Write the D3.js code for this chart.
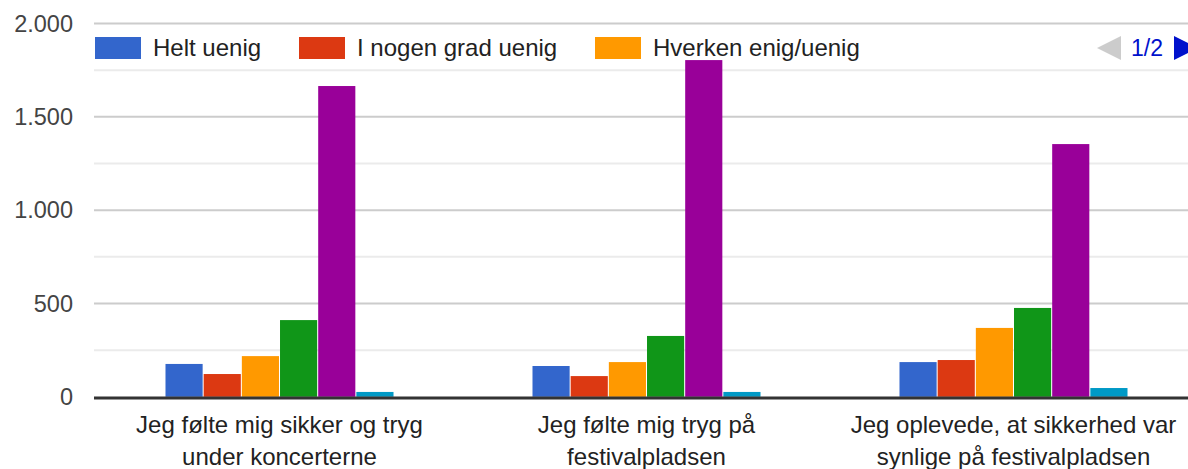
<!DOCTYPE html>
<html>
<head>
<meta charset="utf-8">
<script src="https://cdn.jsdelivr.net/npm/d3@7"></script>
<style>
  html, body { margin: 0; padding: 0; background: #fff; }
  svg { display: block; font-family: Arial, "Liberation Sans", sans-serif; }
</style>
</head>
<body>
<svg id="chart" width="1188" height="469"></svg>
<script>
// Survey statements (x categories), each label split over two lines
const categories = [
  "Jeg følte mig sikker og tryg",
  "Jeg følte mig tryg på",
  "Jeg oplevede, at sikkerhed var"
];
const categoryLines = [
  ["Jeg følte mig sikker og tryg", "under koncerterne"],
  ["Jeg følte mig tryg på", "festivalpladsen"],
  ["Jeg oplevede, at sikkerhed var", "synlige på festivalpladsen"]
];

// Answer options (series); the legend shows the first page of them
const seriesNames = ["Helt uenig", "I nogen grad uenig", "Hverken enig/uenig", "Delvist enig", "Helt enig", "Ved ikke"];
const seriesColors = ["#3366cc", "#dc3912", "#ff9900", "#109618", "#990099", "#0099c6"];

// Response counts per statement, one value per answer option
const valuesSikkerKoncert = [176, 122, 218, 411, 1665, 26];
const valuesTrygPlads     = [165, 111, 186, 326, 1804, 26];
const valuesSynligSikker  = [186, 197, 369, 476, 1354, 47];
const seriesValues = [valuesSikkerKoncert, valuesTrygPlads, valuesSynligSikker];

const yTicks = [0, 500, 1000, 1500, 2000];
const yMinorTicks = [250, 750, 1250, 1750];
const legendPage = "1/2";

const svg = d3.select("#chart");
const W = 1188, H = 469;

const y = d3.scaleLinear().domain([0, 2000]).range([396.8, 23.5]);
const x0 = d3.scaleBand().domain(categories).range([96, 1197])
  .paddingInner(0.3787).paddingOuter(0.18937);
const x1 = d3.scaleBand().domain(seriesNames).range([0, x0.bandwidth()]).paddingInner(0.027);

const fmt = v => d3.format(",")(v).replace(/,/g, ".");

// gridlines
svg.append("g").selectAll("line").data(yMinorTicks).join("line")
  .attr("x1", 94).attr("x2", W)
  .attr("y1", d => y(d)).attr("y2", d => y(d))
  .attr("stroke", "#ebebeb").attr("stroke-width", 2);
svg.append("g").selectAll("line").data(yTicks.filter(d => d > 0)).join("line")
  .attr("x1", 94).attr("x2", W)
  .attr("y1", d => y(d)).attr("y2", d => y(d))
  .attr("stroke", "#cccccc").attr("stroke-width", 2);

// y axis labels
const yAxis = d3.axisLeft(y).tickValues(yTicks).tickFormat(fmt).tickSize(0).tickPadding(0);
const yg = svg.append("g").attr("transform", "translate(73,0)").call(yAxis);
yg.select(".domain").remove();
yg.selectAll("text").attr("fill", "#444").style("font-size", "23.5px")
  .attr("font-family", "Arial, 'Liberation Sans', sans-serif");

// bars
const groups = svg.append("g").selectAll("g").data(categories).join("g")
  .attr("transform", d => `translate(${x0(d)},0)`);
groups.selectAll("rect")
  .data((d, i) => seriesNames.map((s, j) => ({ s, j, v: seriesValues[i][j] })))
  .join("rect")
  .attr("x", d => x1(d.s))
  .attr("width", x1.bandwidth())
  .attr("y", d => y(d.v))
  .attr("height", d => y(0) - y(d.v))
  .attr("fill", d => seriesColors[d.j]);

// baseline
svg.append("line").attr("x1", 94).attr("x2", W)
  .attr("y1", y(0) + 1.2).attr("y2", y(0) + 1.2)
  .attr("stroke", "#333").attr("stroke-width", 3);

// x category labels
const xg = svg.append("g");
categories.forEach((c, i) => {
  const cx = x0(c) + x0.bandwidth() / 2;
  const t = xg.append("text").attr("text-anchor", "middle")
    .attr("fill", "#222").style("font-size", "24px");
  categoryLines[i].forEach((ln, k) => {
    t.append("tspan").attr("x", cx).attr("y", 433 + k * 32).text(ln);
  });
});

// legend (first page)
const legendX = [95, 299, 595];
const lg = svg.append("g");
seriesNames.slice(0, 3).forEach((s, i) => {
  lg.append("rect").attr("x", legendX[i]).attr("y", 37).attr("width", 46).attr("height", 22)
    .attr("fill", seriesColors[i]);
  lg.append("text").attr("x", legendX[i] + 58).attr("y", 56)
    .attr("fill", "#222").style("font-size", "24px").text(s);
});
// pager
lg.append("path").attr("d", "M1121,36 L1121,60 L1097,48 Z").attr("fill", "#cccccc");
lg.append("text").attr("x", 1131).attr("y", 56).attr("fill", "#0011cc")
  .style("font-size", "23px").text(legendPage);
lg.append("path").attr("d", "M1174,36 L1174,60 L1198,48 Z").attr("fill", "#0011cc");
</script>
</body>
</html>
